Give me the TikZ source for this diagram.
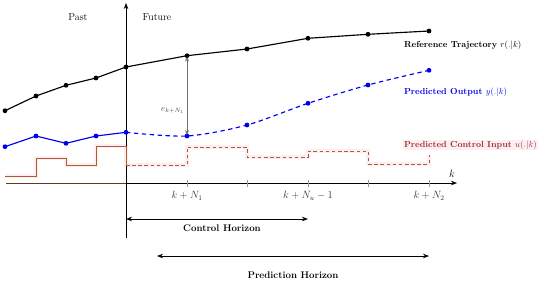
\documentclass[tikz,border=0pt]{standalone}
\usetikzlibrary{arrows.meta,positioning,calc}
\definecolor{mpcRef}{HTML}{000000}
\definecolor{mpcOut}{HTML}{0000F0}
\definecolor{mpcIn}{HTML}{B25A30}
\definecolor{mpcInTxt}{HTML}{A0302A}
\definecolor{mpcGlow}{HTML}{FDEEF3}
\definecolor{mpcGrey}{HTML}{6E6E6E}
\tikzset{
  mpcaxis/.style={-{Stealth[length=2.4mm, width=1.8mm]}, draw=black, line width=0.7pt},
  mpcref/.style={draw=mpcRef, line width=1.3pt},
  mpcout/.style={draw=mpcOut, line width=1.3pt},
  mpcin/.style={draw=mpcIn, line width=1.1pt},
  mpcglow/.style={draw=mpcGlow, line width=5.5pt},
  mpchorizon/.style={{Stealth[length=2.4mm, width=1.8mm]}-{Stealth[length=2.4mm, width=1.8mm]}, draw=black, line width=0.8pt},
  mpcerr/.style={{Stealth[length=2mm, width=1.6mm]}-{Stealth[length=2mm, width=1.6mm]}, draw=mpcGrey, line width=0.8pt},
  mpcticks/.style={draw=mpcGrey!70, line width=0.5pt},
  mpclabel/.style={anchor=west, font=\bfseries, inner sep=1pt},
  mpcticklabel/.style={text=black!80, inner sep=1pt, font=\fontsize{11.5}{14}\selectfont},
  mpcside/.style={font=\fontsize{11.5}{14}\selectfont},
  mpchlabel/.style={font=\fontsize{11}{13}\selectfont\bfseries, inner sep=1pt}
}

\begin{document}
\begin{tikzpicture}[x=0.04cm, y=-0.04cm]
\useasboundingbox (0,0) rectangle (550,283);

% Puntos de las curvas
\foreach \n/\x/\y in {1/5/110.7, 2/36/96, 3/66/85.3, 4/96/78, 5/126/67,
                      6/187/55.7, 7/247/49, 8/308/38.3, 9/368/34.3, 10/429/31}
  \coordinate (r\n) at (\x,\y);
\foreach \n/\x/\y in {1/5/146.7, 2/36/136, 3/66/143.3, 4/96/136, 5/126/132.3,
                      6/187/136, 7/247/125, 8/308/103.3, 9/368/85, 10/429/70.3}
  \coordinate (y\n) at (\x,\y);

% Entrada de control (sombra)
\draw[mpcglow] (5,176) -| (36,158) -| (66,165) -| (96,146) -| (126,165)
  -| (187,147) -| (247,157) -| (308,151) -| (368,164) -| (429,155);
\node[mpclabel, fill=mpcGlow, text=mpcInTxt] (inlabel) at (403,145) {Predicted Control Input $u(.|k)$};

% Ejes
\coordinate (k0) at (126,183);
\draw[mpcaxis] (6,183) coordinate (h0) -- (457,183) coordinate (h1);
\draw[mpcIn!60!black, line width=0.6pt] (h0) -- (k0);
\node (klabel) at (452,174) {\large $k$};
\draw[mpcaxis] (126,238) coordinate (v0) -- (126,3) coordinate (v1);
\node[mpcside] (past) at (78,17) {Past};
\node[mpcside] (future) at (157,17) {Future};

% Marcas del eje
\foreach \x in {187,247,308,368,429}
  \draw[mpcticks] (\x,179.5) -- (\x,186.5);
\node[mpcticklabel] (tn1) at (187,196) {$k+N_1$};
\node[mpcticklabel] (tnu) at (308,196) {$k+N_u-1$};
\node[mpcticklabel] (tn2) at (429,196) {$k+N_2$};

% Entrada de control
\draw[mpcin] (5,176) -| (36,158) -| (66,165) -| (96,146) -| (126,165);
\draw[mpcin, dashed, dash pattern=on 4pt off 3pt] (126,165) -| (187,147) -| (247,157) -| (308,151) -| (368,164) -| (429,155);

% Trayectoria de referencia
\draw[mpcref] (r1) -- (r2) -- (r3) -- (r4) -- (r5) -- (r6) -- (r7) -- (r8) -- (r9) -- (r10);
\foreach \n in {1,...,10} \fill[mpcRef] (r\n) circle (2.4);
\node[mpclabel] (reflabel) at (403,45) {Reference Trajectory $r(.|k)$};

% Salida predicha
\draw[mpcout] (y1) -- (y2) -- (y3) -- (y4) -- (y5);
\draw[mpcout, dashed, dash pattern=on 5pt off 4pt] plot[smooth, tension=0.5] coordinates {(y5) (y6) (y7) (y8) (y9) (y10)};
\foreach \n in {1,...,10} \fill[mpcOut] (y\n) circle (2.4);
\node[mpclabel, text=mpcOut] (outlabel) at (403,92) {Predicted Output $y(.|k)$};

% Error
\draw[mpcerr, shorten <=1pt, shorten >=1pt] (r6) -- node[left, pos=0.68, text=black!75, inner sep=3pt] (errlabel) {$e_{k+N_1}$} (y6);

% Horizontes
\coordinate (ch0) at (126,219);
\coordinate (ch1) at (308,219);
\draw[mpchorizon] (ch0) -- (ch1);
\node[mpchlabel] (chlabel) at (222,228) {Control Horizon};
\coordinate (ph0) at (157,256);
\coordinate (ph1) at (429,256);
\draw[mpchorizon] (ph0) -- (ph1);
\node[mpchlabel] (phlabel) at (293,275.5) {Prediction Horizon};

\end{tikzpicture}
\end{document}
